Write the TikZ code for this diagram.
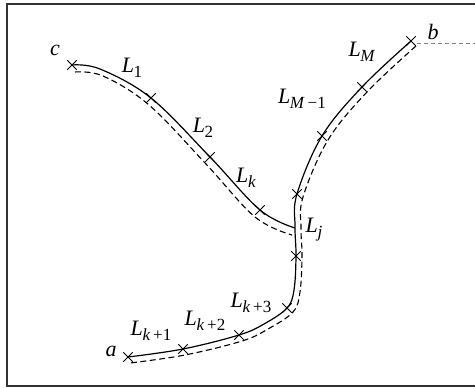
\documentclass[tikz,border=0pt]{standalone}
\usepackage{fontspec}
\setmainfont{Liberation Serif}
\usetikzlibrary{shapes.misc}
\newcommand\Lsub[1]{\textit{L}\kern-0.02em\raisebox{-0.5ex}{\fontsize{17}{17}\selectfont #1}}
\begin{document}
\begin{tikzpicture}[x=1pt,y=-1pt,
  xmark/.style={cross out,draw,line width=0.9pt,minimum size=8.5pt,inner sep=0pt},
  solidline/.style={line width=1.2pt},
  dashline/.style={line width=1.1pt,dash pattern=on 6pt off 3.5pt},
  lab/.style={font=\fontsize{22}{24}\selectfont,inner sep=0pt}]
\useasboundingbox (0,0) rectangle (475,388);
\draw[line width=2pt,black!80] (476,3.5) -- (6.5,3.5) -- (6.5,386) -- (476,386);
% crosses
\node[xmark] (c) at (72,65) {};
\node[xmark] (x1) at (151,98) {};
\node[xmark] (x2) at (210,157) {};
\node[xmark] (x3) at (260,210) {};
\node[xmark] (b) at (411,41) {};
\node[xmark] (y1) at (362,87) {};
\node[xmark] (y2) at (322,136) {};
\node[xmark] (y3) at (297,194) {};
\node[xmark] (y4) at (296,256) {};
\node[xmark] (y5) at (287,308) {};
\node[xmark] (y6) at (239,335) {};
\node[xmark] (y7) at (183,349) {};
\node[xmark] (a) at (128,357) {};
\coordinate (j) at (295,228);
% solid curves
\draw[solidline] plot[smooth,tension=0.6] coordinates {(c.center) (100,69) (x1.center) (x2.center) (x3.center) (j)};
\draw[solidline] plot[smooth,tension=0.6] coordinates {(b.center) (y1.center) (y2.center) (y3.center) (295,226) (y4.center) (294,290) (y5.center) (264,324) (y6.center) (y7.center) (a.center)};
% dashed curves
\draw[dashline] plot[smooth,tension=0.6] coordinates {(75,72) (103,76) (149,105) (206,164) (255,217) (292,235)};
\draw[dashline] plot[smooth,tension=0.6] coordinates {(416,46) (367,92) (328,140) (303,197) (301,228) (302,256) (300,292) (293,312) (268,329) (242,341) (185,355) (130,363)};
\coordinate (bend) at (475,43);
\draw[gray,line width=0.7pt,dash pattern=on 4pt off 3pt] (417,43) -- (bend);
% labels
\node[lab] at (55,50) {\textit{c}};
\node[lab] at (433,32) {\textit{b}};
\node[lab] at (111,351) {\textit{a}};
\node[lab] at (132,68) {\Lsub{1}};
\node[lab] at (203,128) {\Lsub{2}};
\node[lab] at (246,178) {\Lsub{\textit{k}}};
\node[lab] at (314,230) {\Lsub{\textit{j}}};
\node[lab] at (362,52) {\Lsub{\textit{M}}};
\node[lab] at (302,99) {\Lsub{\textit{M}\,−1}};
\node[lab] at (251,303) {\Lsub{\textit{k}\,+3}};
\node[lab] at (205,321) {\Lsub{\textit{k}\,+2}};
\node[lab] at (151,331) {\Lsub{\textit{k}\,+1}};
\end{tikzpicture}
\end{document}
